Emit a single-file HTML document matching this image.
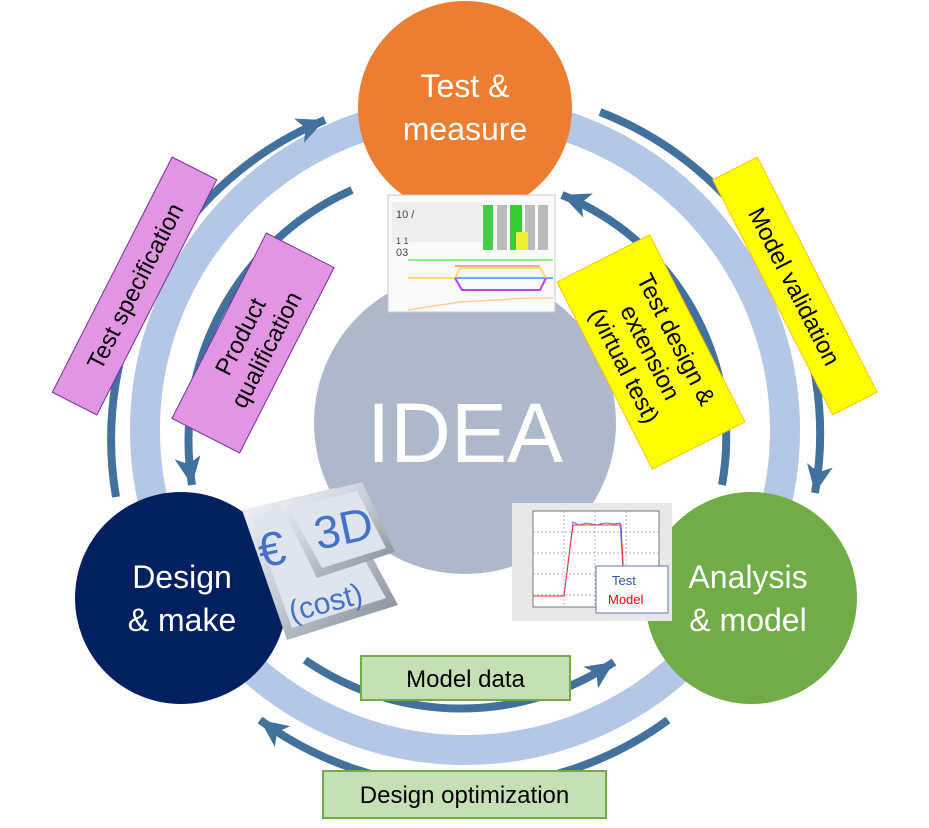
<!DOCTYPE html>
<html><head><meta charset="utf-8"><style>
html,body{margin:0;padding:0;background:#fff;}
svg{display:block;font-family:"Liberation Sans",sans-serif;}
</style></head><body>
<svg width="929" height="828" viewBox="0 0 929 828" xmlns="http://www.w3.org/2000/svg">
<defs>
<marker id="ah" markerUnits="userSpaceOnUse" markerWidth="34" markerHeight="30" refX="28" refY="15" orient="auto">
<path d="M0,2 L28,15 L0,28 L7,15 Z" fill="#41719c"/>
</marker>
<linearGradient id="edge" x1="0" y1="0" x2="1" y2="1">
<stop offset="0" stop-color="#f2f4f8"/><stop offset="0.5" stop-color="#c4cad3"/><stop offset="1" stop-color="#7d8591"/>
</linearGradient>
</defs>

<!-- ring -->
<circle cx="465" cy="430" r="320" fill="none" stroke="#b4c7e7" stroke-width="30"/>

<!-- arrows -->
<g fill="none" stroke="#41719c" stroke-width="8" marker-end="url(#ah)">
<path d="M116,497 A345,345 0 0,1 325,120"/>
<path d="M600,112 A345,345 0 0,1 815,493"/>
<path d="M668,720 A345,345 0 0,1 260,720"/>
<path d="M352,190 A275,275 0 0,0 192,485"/>
<path d="M305,660 A275,275 0 0,0 614,662"/>
<path d="M722,485 A262,262 0 0,0 562,195"/>
</g>

<!-- IDEA -->
<circle cx="465" cy="423" r="151" fill="#adb9ca"/>
<text x="465" y="462" font-size="84" fill="#fff" text-anchor="middle">IDEA</text>

<!-- Test & measure -->
<circle cx="465" cy="108" r="107" fill="#ed7d31"/>
<text x="465" y="97" font-size="32" fill="#fff" text-anchor="middle">Test &amp;</text>
<text x="465" y="140" font-size="32" fill="#fff" text-anchor="middle">measure</text>

<!-- Design & make -->
<circle cx="181" cy="598" r="106" fill="#002060"/>
<text x="182" y="588" font-size="32" fill="#fff" text-anchor="middle">Design</text>
<text x="182" y="631" font-size="32" fill="#fff" text-anchor="middle">&amp; make</text>

<!-- Analysis & model -->
<circle cx="751" cy="598" r="106" fill="#70ad47"/>
<text x="748" y="588" font-size="32" fill="#fff" text-anchor="middle">Analysis</text>
<text x="748" y="631" font-size="32" fill="#fff" text-anchor="middle">&amp; model</text>

<!-- screenshot -->
<g>
<rect x="388" y="195" width="167" height="117" fill="#fafafa" stroke="#ccc"/>
<rect x="392" y="202" width="90" height="40" fill="#eee"/>
<text x="396" y="218" font-size="11" fill="#444">10 /</text>
<text x="396" y="244" font-size="9" fill="#444">1 1</text>
<text x="396" y="256" font-size="11" fill="#444">03</text>
<rect x="483" y="205" width="10" height="45" fill="#4c4"/>
<rect x="497" y="205" width="10" height="45" fill="#bbb"/>
<rect x="510" y="205" width="12" height="45" fill="#3c3"/>
<rect x="525" y="205" width="10" height="45" fill="#bbb"/>
<rect x="538" y="205" width="10" height="45" fill="#bbb"/>
<rect x="516" y="232" width="12" height="18" fill="#ee3"/>
<line x1="408" y1="260" x2="553" y2="260" stroke="#8e8" stroke-width="2"/>
<line x1="408" y1="278" x2="553" y2="278" stroke="#6af" stroke-width="2"/>
<path d="M408,278 L455,278 L460,268 L540,268 L546,278" fill="none" stroke="#fd6" stroke-width="2"/>
<path d="M455,278 L462,290 L540,290 L546,278" fill="none" stroke="#b4e" stroke-width="2"/>
<path d="M455,266 L540,266" stroke="#f88" stroke-width="1.5"/>
<path d="M408,310 L460,302 L530,298 L553,298" fill="none" stroke="#fc9" stroke-width="1.5"/>
</g>

<!-- chart -->
<g>
<rect x="512" y="503" width="160" height="118" fill="#e8e8e8"/>
<rect x="533" y="511" width="126" height="96" fill="#fff" stroke="#555" stroke-width="0.8"/>
<g stroke="#999" stroke-dasharray="2,2" stroke-width="0.7">
<line x1="564" y1="511" x2="564" y2="607"/><line x1="595" y1="511" x2="595" y2="607"/><line x1="626" y1="511" x2="626" y2="607"/>
<line x1="533" y1="532" x2="659" y2="532"/><line x1="533" y1="553" x2="659" y2="553"/><line x1="533" y1="574" x2="659" y2="574"/><line x1="533" y1="595" x2="659" y2="595"/>
</g>
<path d="M533,596 L564,596 L573,522 L579,525 L587,523 L596,525 L606,523 L614,524 L620,523 L625,600" fill="none" stroke="#66f" stroke-width="1"/>
<path d="M533,596 L564,596 L573,525 L621,525 L625,600" fill="none" stroke="#f33" stroke-width="1"/>
<rect x="596" y="566" width="72" height="47" fill="#fff" stroke="#5a7ca8"/>
<text x="612" y="585" font-size="13" fill="#2f55a4">Test</text>
<text x="608" y="604" font-size="13" fill="#f00">Model</text>
</g>

<!-- tiles -->
<g>
<polygon points="242,510 335,488 398,605 287,640" fill="url(#edge)"/>
<polygon points="252,516 330,498 386,598 292,628" fill="#dfe5ee"/>
<polygon points="280,503 362,482 395,552 317,578" fill="url(#edge)"/>
<polygon points="289,508 357,491 386,548 322,568" fill="#dfe5ee"/>
<text x="262" y="568" font-size="48" fill="#4472c4" transform="rotate(-12 262 568)">€</text>
<text x="318" y="550" font-size="46" fill="#4472c4" transform="rotate(-12 318 550)">3D</text>
<text x="292" y="622" font-size="30" fill="#4472c4" transform="rotate(-15 292 622)">(cost)</text>
</g>

<!-- pink boxes -->
<g transform="translate(134.5,286) rotate(-63)">
<rect x="-132" y="-25" width="264" height="50" fill="#e295e3" stroke="#7030a0" stroke-width="1"/>
<text x="0" y="9" font-size="24" text-anchor="middle" fill="#000">Test specification</text>
</g>
<g transform="translate(253,343) rotate(-63)">
<rect x="-104" y="-38" width="208" height="76" fill="#e295e3" stroke="#7030a0" stroke-width="1"/>
<text x="0" y="-6" font-size="24" text-anchor="middle" fill="#000">Product</text>
<text x="0" y="23" font-size="24" text-anchor="middle" fill="#000">qualification</text>
</g>

<!-- yellow boxes -->
<g transform="translate(795,286) rotate(63)">
<rect x="-132" y="-25" width="264" height="50" fill="#ffff00" stroke="#ffc000" stroke-width="1"/>
<text x="0" y="9" font-size="24" text-anchor="middle" fill="#000">Model validation</text>
</g>
<g transform="translate(651,352) rotate(63)">
<rect x="-105" y="-52" width="210" height="104" fill="#ffff00" stroke="#ffc000" stroke-width="1"/>
<text x="0" y="-20" font-size="24" text-anchor="middle" fill="#000">Test design &amp;</text>
<text x="0" y="9" font-size="24" text-anchor="middle" fill="#000">extension</text>
<text x="0" y="38" font-size="24" text-anchor="middle" fill="#000">(virtual test)</text>
</g>

<!-- green boxes -->
<rect x="361" y="656" width="209" height="44" fill="#c5e0b4" stroke="#70ad47" stroke-width="2"/>
<text x="465.5" y="687" font-size="24" text-anchor="middle" fill="#000">Model data</text>
<rect x="323" y="771" width="283" height="47" fill="#c5e0b4" stroke="#70ad47" stroke-width="2"/>
<text x="464.5" y="803" font-size="24" text-anchor="middle" fill="#000">Design optimization</text>
</svg>
</body></html>
